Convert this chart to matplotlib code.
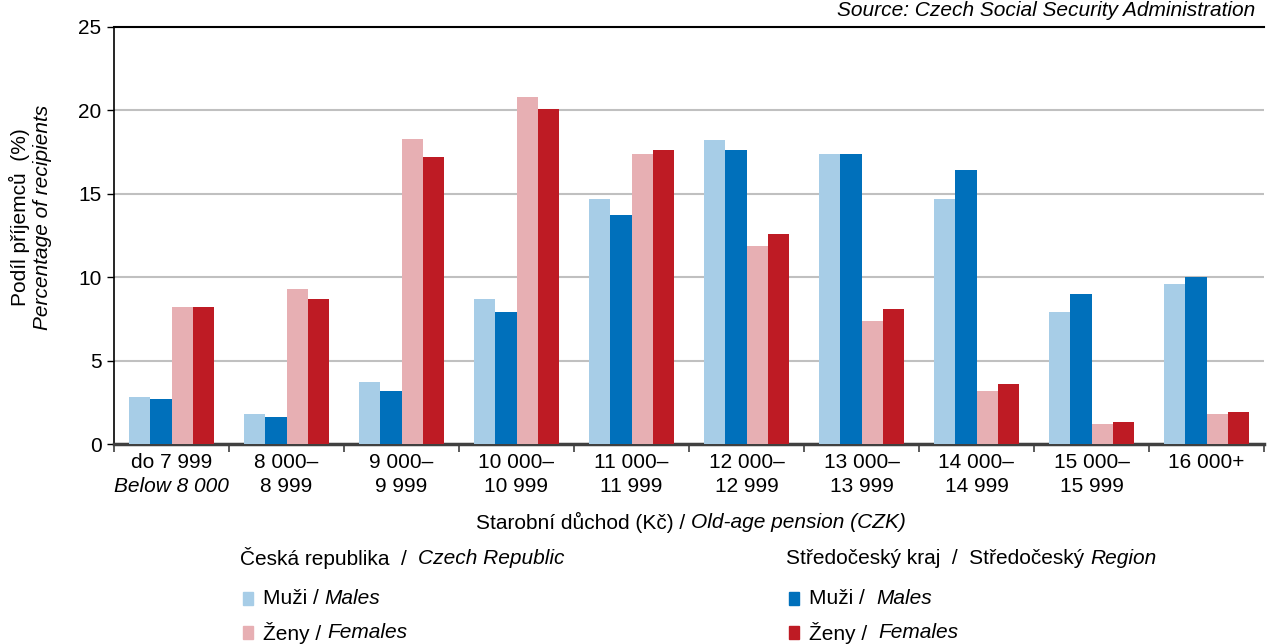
import matplotlib
matplotlib.use("Agg")
import matplotlib.pyplot as plt
from matplotlib.patches import Rectangle
import matplotlib.transforms as mtrans
import numpy as np

plt.rcParams['font.family'] = ['Liberation Sans', 'DejaVu Sans']

cat_line1 = ["do 7 999", "8 000–", "9 000–", "10 000–", "11 000–", "12 000–",
             "13 000–", "14 000–", "15 000–", "16 000+"]
cat_line2 = ["Below 8 000", "8 999", "9 999", "10 999", "11 999", "12 999",
             "13 999", "14 999", "15 999", ""]
cz_males = [2.8, 1.8, 3.7, 8.7, 14.7, 18.2, 17.4, 14.7, 7.9, 9.6]
sc_males = [2.7, 1.6, 3.2, 7.9, 13.7, 17.6, 17.4, 16.4, 9.0, 10.0]
cz_females = [8.2, 9.3, 18.3, 20.8, 17.4, 11.9, 7.4, 3.2, 1.2, 1.8]
sc_females = [8.2, 8.7, 17.2, 20.1, 17.6, 12.6, 8.1, 3.6, 1.3, 1.9]

series = [cz_males, sc_males, cz_females, sc_females]
colors = ["#A7CDE7", "#0070BB", "#E7AFB3", "#BE1B24"]

W, H = 1269, 644
fig = plt.figure(figsize=(W / 100, H / 100), dpi=100)

def fx(px):
    return px / W

def fy(py):
    return 1 - py / H

L, R, T, B = 114, 1264, 27, 444
ax = fig.add_axes([fx(L), fy(B), fx(R) - fx(L), fy(T) - fy(B)])

n = len(cat_line1)
x = np.arange(n)
bw = 0.183
offsets = (np.arange(4) - 1.5) * bw
for s, c, off in zip(series, colors, offsets):
    ax.bar(x + off, s, width=bw, color=c, edgecolor='none', zorder=3)

fs = 15

ax.set_xlim(-0.5, n - 0.5)
ax.set_ylim(0, 25)
ax.set_yticks([0, 5, 10, 15, 20, 25])
ax.tick_params(axis='y', labelsize=fs, length=5, width=1, direction='out', pad=4)
ax.set_xticks(np.arange(n + 1) - 0.5)
ax.set_xticklabels([])
ax.tick_params(axis='x', length=6, width=1.2, direction='out', color='#404040')
ax.yaxis.grid(True, color='#C0C0C0', linewidth=1.5, zorder=0)
ax.set_axisbelow(True)
ax.spines['top'].set_linewidth(1.5)
ax.spines['right'].set_visible(False)
ax.spines['left'].set_linewidth(1.2)
ax.spines['bottom'].set_linewidth(2.5)
ax.spines['bottom'].set_color('#404040')

blend = mtrans.blended_transform_factory(ax.transData, fig.transFigure)
for i in range(n):
    ax.text(i, fy(462), cat_line1[i], transform=blend, ha='center', va='center', fontsize=fs)
    ax.text(i, fy(487), cat_line2[i], transform=blend, ha='center', va='center', fontsize=fs,
            style='italic' if i == 0 else 'normal')

fig.canvas.draw()
renderer = fig.canvas.get_renderer()

def mixed(segments, px, py, ha='left'):
    texts = []
    for t, st in segments:
        texts.append(fig.text(0, fy(py), t, fontsize=fs, style=st, va='center', ha='left'))
    widths = [t.get_window_extent(renderer).width for t in texts]
    total = sum(widths)
    if ha == 'center':
        start = px - total / 2
    elif ha == 'right':
        start = px - total
    else:
        start = px
    cur = start
    for t, w in zip(texts, widths):
        t.set_x(fx(cur))
        cur += w

mixed([("Starobní důchod (Kč) / ", 'normal'), ("Old-age pension (CZK)", 'italic')], 691, 522, ha='center')
fig.text(fx(1255), fy(10), "Source: Czech Social Security Administration", fontsize=fs,
         style='italic', ha='right', va='center')

fig.text(fx(19), fy(217), "Podíl příjemců  (%)", rotation=90, fontsize=fs, ha='center', va='center')
fig.text(fx(43), fy(217), "Percentage of recipients", rotation=90, fontsize=fs, style='italic',
         ha='center', va='center')

mixed([("Česká republika  /  ", 'normal'), ("Czech Republic", 'italic')], 240, 558)
mixed([("Středočeský kraj  /  Středočeský ", 'normal'), ("Region", 'italic')], 786, 558)
items = [(243, 599, colors[0], "Muži / ", "Males"),
         (243, 633, colors[2], "Ženy / ", "Females"),
         (789, 599, colors[1], "Muži /  ", "Males"),
         (789, 633, colors[3], "Ženy /  ", "Females")]
for px, py, c, t1, t2 in items:
    fig.patches.append(Rectangle((fx(px), fy(py + 6)), fx(10), 13 / H, color=c,
                                 transform=fig.transFigure, figure=fig))
    mixed([(t1, 'normal'), (t2, 'italic')], px + 20, py)

fig.savefig("out.png", dpi=100)
